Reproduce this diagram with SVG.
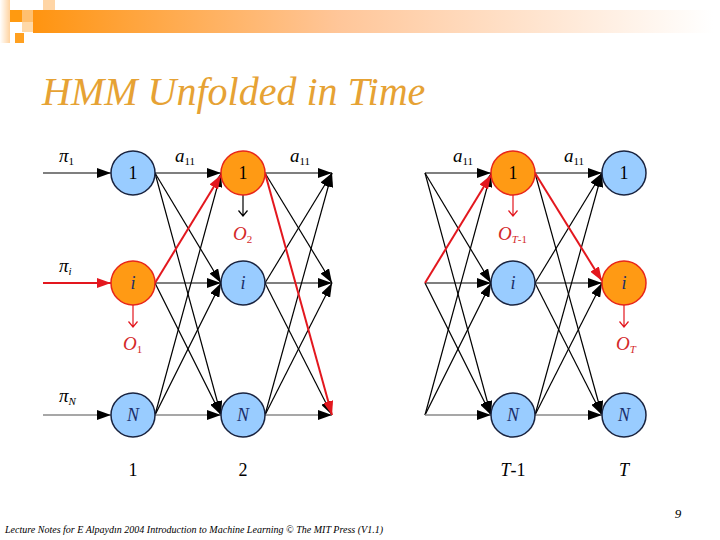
<svg xmlns="http://www.w3.org/2000/svg" width="720" height="540" viewBox="0 0 720 540">
<style>
text{font-family:"Liberation Serif","Times New Roman",Times,serif}
.e{stroke:#000;stroke-width:1.2;fill:none;marker-end:url(#ah)}
.g{stroke:#8a8a8a;stroke-width:1.4;fill:none;marker-end:url(#ah)}
.r{stroke:#E3171E;stroke-width:2;fill:none;marker-end:url(#ahr)}
.ob{stroke:#000;stroke-width:1.2;fill:none}
.obr{stroke:#E3171E;stroke-width:1.2;fill:none}
.blue{fill:#99CCFF;stroke:#1a2440;stroke-width:1.5}
.orange{fill:#FF9A14;stroke:#E8261A;stroke-width:1.5}
.t{font-size:18px;text-anchor:middle}
.ti{font-size:18px;font-style:italic;text-anchor:middle;fill:#1a2f6a}
.lab{font-style:italic;font-size:19px;fill:#000}
.sub{font-size:11px;font-style:normal}
.subi{font-size:11px;font-style:italic}
.red{fill:#D42A2A}
.title{font-style:italic;font-size:40px;fill:#E6A234}
.foot{font-style:italic;font-size:10px}
.pg{font-style:italic;font-size:13px;text-anchor:middle}
</style>
<defs>
<linearGradient id="bar" x1="0" y1="0" x2="1" y2="0">
<stop offset="0" stop-color="#FF9410"/>
<stop offset="0.45" stop-color="#FFC699"/>
<stop offset="1" stop-color="#FFFFFF"/>
</linearGradient>
<linearGradient id="strip" x1="0" y1="0" x2="1" y2="0">
<stop offset="0" stop-color="#FFFFFF"/>
<stop offset="1" stop-color="#FFD3A0"/>
</linearGradient>
<marker id="ah" viewBox="0 0 14 10" refX="14" refY="5" markerWidth="14" markerHeight="10" orient="auto" markerUnits="userSpaceOnUse"><path d="M0,0 L14,5 L0,10 z" fill="#000"/></marker>
<marker id="ahr" viewBox="0 0 14 10" refX="14" refY="5" markerWidth="14" markerHeight="10" orient="auto" markerUnits="userSpaceOnUse"><path d="M0,0 L14,5 L0,10 z" fill="#E3171E"/></marker>
</defs>
<rect width="720" height="540" fill="#fff"/>
<g id="decoration">
<rect x="0" y="0" width="10" height="43" fill="url(#strip)"/>
<rect x="33" y="10" width="680" height="23" fill="url(#bar)"/>
<rect x="10" y="10" width="12" height="12" fill="#FF9A10"/>
<rect x="22" y="10" width="11" height="12" fill="#FFC070"/>
<rect x="22" y="22" width="11" height="10" fill="#FFD9A8"/>
<rect x="15" y="33" width="9" height="10" fill="#FFA020"/>
<rect x="43" y="0" width="12" height="10" fill="#FFD5A5"/>
</g>
<text class="title" x="42" y="105">HMM Unfolded in Time</text>
<g id="connectors">
<line class="e" x1="43" y1="173" x2="111" y2="173"/>
<line class="g" x1="43" y1="415" x2="111" y2="415"/>
<line class="e" x1="155" y1="173" x2="221" y2="173"/>
<line class="e" x1="155" y1="173" x2="221" y2="283"/>
<line class="e" x1="155" y1="173" x2="221" y2="415"/>
<line class="e" x1="155" y1="283" x2="221" y2="283"/>
<line class="e" x1="155" y1="283" x2="221" y2="415"/>
<line class="e" x1="155" y1="415" x2="221" y2="173"/>
<line class="e" x1="155" y1="415" x2="221" y2="283"/>
<line class="g" x1="155" y1="415" x2="221" y2="415"/>
<line class="e" x1="265" y1="173" x2="332" y2="173"/>
<line class="e" x1="265" y1="173" x2="332" y2="283"/>
<line class="e" x1="265" y1="283" x2="332" y2="173"/>
<line class="e" x1="265" y1="283" x2="332" y2="283"/>
<line class="e" x1="265" y1="283" x2="332" y2="415"/>
<line class="e" x1="265" y1="415" x2="332" y2="173"/>
<line class="e" x1="265" y1="415" x2="332" y2="283"/>
<line class="g" x1="265" y1="415" x2="332" y2="415"/>
<line class="e" x1="425" y1="173" x2="491" y2="173"/>
<line class="e" x1="425" y1="173" x2="491" y2="283"/>
<line class="e" x1="425" y1="173" x2="491" y2="415"/>
<line class="e" x1="425" y1="283" x2="491" y2="283"/>
<line class="e" x1="425" y1="283" x2="491" y2="415"/>
<line class="e" x1="425" y1="415" x2="491" y2="173"/>
<line class="e" x1="425" y1="415" x2="491" y2="283"/>
<line class="g" x1="425" y1="415" x2="491" y2="415"/>
<line class="e" x1="535" y1="173" x2="602" y2="173"/>
<line class="e" x1="535" y1="173" x2="602" y2="415"/>
<line class="e" x1="535" y1="283" x2="602" y2="173"/>
<line class="e" x1="535" y1="283" x2="602" y2="283"/>
<line class="e" x1="535" y1="283" x2="602" y2="415"/>
<line class="e" x1="535" y1="415" x2="602" y2="173"/>
<line class="e" x1="535" y1="415" x2="602" y2="283"/>
<line class="g" x1="535" y1="415" x2="602" y2="415"/>
<line class="r" x1="43" y1="283" x2="111" y2="283"/>
<line class="r" x1="155" y1="283" x2="221" y2="175"/>
<line class="r" x1="265" y1="173" x2="332" y2="415"/>
<line class="r" x1="425" y1="283" x2="491" y2="175"/>
<line class="r" x1="535" y1="173" x2="602" y2="281"/>
<path class="obr" d="M133,305 V327 M128.5,321.5 L133,327 L137.5,321.5"/>
<path class="ob" d="M243,195 V216 M238.5,210.5 L243,216 L247.5,210.5"/>
<path class="obr" d="M513,195 V216 M508.5,210.5 L513,216 L517.5,210.5"/>
<path class="obr" d="M624,305 V327 M619.5,321.5 L624,327 L628.5,321.5"/>
</g>
<g id="n1_1"><circle class="blue" cx="133" cy="173" r="22"/><text class="t" x="133" y="179">1</text></g>
<g id="n1_i"><circle class="orange" cx="133" cy="283" r="22"/><text class="ti" x="133" y="289">i</text></g>
<g id="n1_N"><circle class="blue" cx="133" cy="415" r="22"/><text class="ti" x="133" y="421">N</text></g>
<g id="n2_1"><circle class="orange" cx="243" cy="173" r="22"/><text class="t" x="243" y="179">1</text></g>
<g id="n2_i"><circle class="blue" cx="243" cy="283" r="22"/><text class="ti" x="243" y="289">i</text></g>
<g id="n2_N"><circle class="blue" cx="243" cy="415" r="22"/><text class="ti" x="243" y="421">N</text></g>
<g id="nT1_1"><circle class="orange" cx="513" cy="173" r="22"/><text class="t" x="513" y="179">1</text></g>
<g id="nT1_i"><circle class="blue" cx="513" cy="283" r="22"/><text class="ti" x="513" y="289">i</text></g>
<g id="nT1_N"><circle class="blue" cx="513" cy="415" r="22"/><text class="ti" x="513" y="421">N</text></g>
<g id="nT_1"><circle class="blue" cx="624" cy="173" r="22"/><text class="t" x="624" y="179">1</text></g>
<g id="nT_i"><circle class="orange" cx="624" cy="283" r="22"/><text class="ti" x="624" y="289">i</text></g>
<g id="nT_N"><circle class="blue" cx="624" cy="415" r="22"/><text class="ti" x="624" y="421">N</text></g>
<g id="labels">
<text class="lab" x="59" y="162">π<tspan class="sub" dy="3">1</tspan></text>
<text class="lab" x="59" y="272">π<tspan class="subi" dy="3">i</tspan></text>
<text class="lab" x="59" y="402">π<tspan class="subi" dy="3">N</tspan></text>
<text class="lab" x="175" y="162">a<tspan class="sub" dy="3">11</tspan></text>
<text class="lab" x="290" y="162">a<tspan class="sub" dy="3">11</tspan></text>
<text class="lab" x="453" y="162">a<tspan class="sub" dy="3">11</tspan></text>
<text class="lab" x="564" y="162">a<tspan class="sub" dy="3">11</tspan></text>
<text class="lab red" x="123" y="350">O<tspan class="sub" dy="3">1</tspan></text>
<text class="lab red" x="233" y="240">O<tspan class="sub" dy="3">2</tspan></text>
<text class="lab red" x="498" y="240">O<tspan class="subi" dy="3">T</tspan><tspan class="sub">-1</tspan></text>
<text class="lab red" x="616" y="350">O<tspan class="subi" dy="3">T</tspan></text>
<text class="t" x="133" y="476">1</text>
<text class="t" x="243" y="476">2</text>
<text class="t" x="513" y="476"><tspan font-style="italic">T</tspan>-1</text>
<text class="t" x="624" y="476" font-style="italic">T</text>
</g>
<text class="pg" x="678" y="518">9</text>
<text class="foot" x="5" y="533" textLength="378" lengthAdjust="spacingAndGlyphs">Lecture Notes for E Alpaydın 2004 Introduction to Machine Learning © The MIT Press (V1.1)</text>
</svg>
